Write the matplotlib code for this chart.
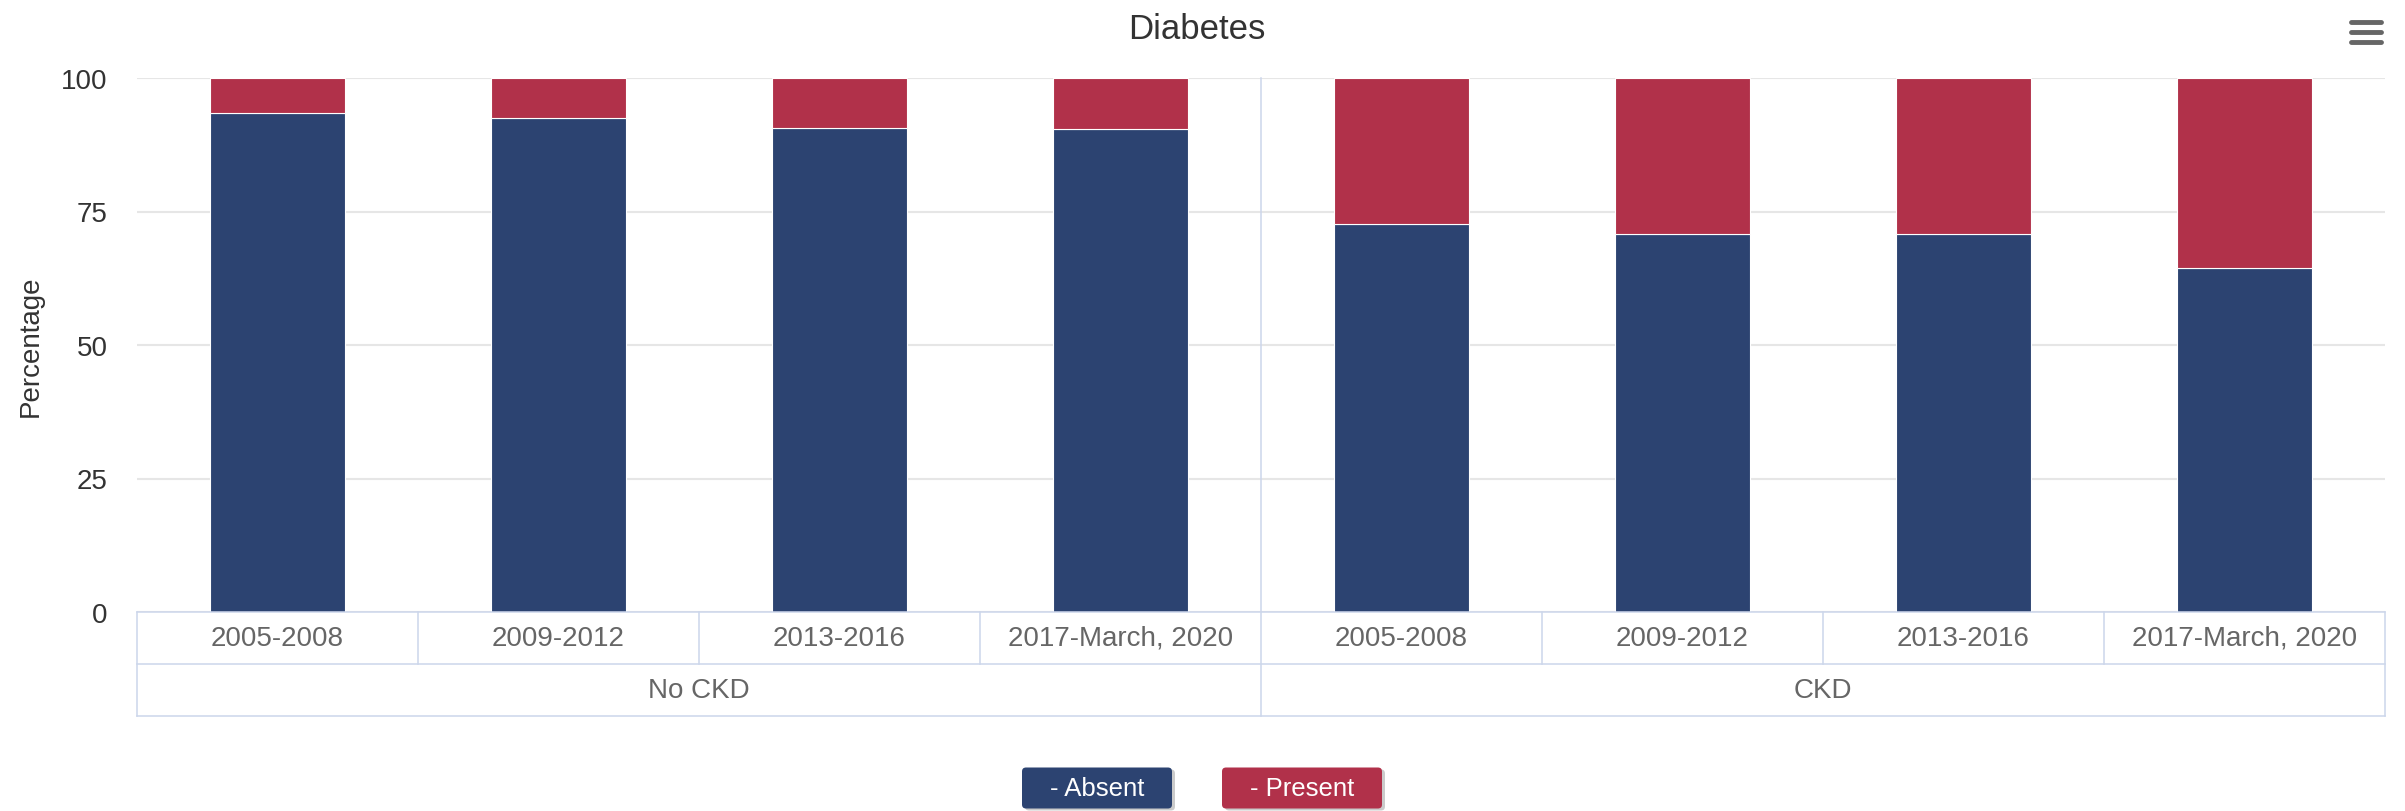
import matplotlib
matplotlib.use("Agg")
import matplotlib.pyplot as plt
import matplotlib.transforms as mtransforms
from matplotlib.patches import FancyBboxPatch
import numpy as np

plt.rcParams["font.family"] = ["Liberation Sans", "DejaVu Sans"]

# ── Data ──────────────────────────────────────────────────────────────────────
periods = ["2005-2008", "2009-2012", "2013-2016", "2017-March, 2020"]
groups  = ["No CKD", "CKD"]
series  = ["Absent", "Present"]
absent  = [93.4, 92.6, 90.7, 90.4, 72.6, 70.7, 70.7, 64.4]
present = [6.6, 7.4, 9.3, 9.6, 27.4, 29.3, 29.3, 35.6]

BLUE  = "#2c4371"
RED   = "#b1314a"
GRID  = "#e6e6e6"
LINE  = "#ccd6eb"

# ── Figure ────────────────────────────────────────────────────────────────────
fig = plt.figure(figsize=(24.05, 8.12), dpi=100)
ax = fig.add_axes([137 / 2405, 1 - 613 / 812, 2248 / 2405, 534 / 812])

labels = periods * len(groups)
x = np.arange(len(labels))
w = 0.477
ax.bar(x, absent, width=w, color=BLUE, edgecolor="white", linewidth=0.8, zorder=3)
ax.bar(x, present, width=w, bottom=absent, color=RED, edgecolor="white",
       linewidth=0.8, zorder=3)

ax.set_xlim(-0.5, len(labels) - 0.5)
ax.set_ylim(0, 100)
ax.set_yticks([0, 25, 50, 75, 100])
ax.yaxis.grid(True, color=GRID, linewidth=1.5, zorder=0)
ax.set_xticks([])
ax.tick_params(axis="y", length=0, pad=21, labelsize=20, labelcolor="#333333")
for s in ax.spines.values():
    s.set_visible(False)

ax.set_ylabel("Percentage", fontsize=20, color="#333333")
ax.yaxis.set_label_coords(-0.0414, 0.5)

ax.set_title("Diabetes", fontsize=25, color="#333333", pad=29, x=0.4715)

# ── Two-level category table under the plot ─────────────────────────────────
tr = mtransforms.blended_transform_factory(ax.transData, ax.transAxes)
r1, r2 = -52 / 534, -104 / 534
x0, x1 = -0.5, len(labels) - 0.5
kw = dict(color=LINE, linewidth=1.1, transform=tr, clip_on=False, zorder=4)
for yy in (0, r1, r2):
    ax.plot([x0, x1], [yy, yy], **kw)
ax.plot([x0, x0], [0, r2], **kw)
ax.plot([x1, x1], [0, r2], **kw)
n = len(periods)
for k in range(len(labels) - 1):
    if (k + 1) % n == 0:
        ax.plot([k + 0.5, k + 0.5], [1, r2], **kw)
    else:
        ax.plot([k + 0.5, k + 0.5], [0, r1], **kw)

for i, lab in enumerate(labels):
    ax.text(i, r1 / 2, lab, transform=tr, ha="center", va="center",
            fontsize=20, color="#666666")
for g, name in enumerate(groups):
    ax.text(g * n + (n - 1) / 2, (r1 + r2) / 2, name, transform=tr,
            ha="center", va="center", fontsize=20, color="#666666")

# ── Legend buttons ────────────────────────────────────────────────────────────
boxes = [(10.22, 1.50, BLUE), (12.22, 1.60, RED)]
for name, (bx, bw, col) in zip(series, boxes):
    by, bh = 0.025, 0.41
    shadow = FancyBboxPatch((bx + 0.03, by - 0.02), bw, bh,
                            boxstyle="round,pad=0,rounding_size=0.04",
                            transform=fig.dpi_scale_trans, facecolor="#999999",
                            edgecolor="none", alpha=0.5)
    box = FancyBboxPatch((bx, by), bw, bh,
                         boxstyle="round,pad=0,rounding_size=0.04",
                         transform=fig.dpi_scale_trans, facecolor=col,
                         edgecolor="none")
    fig.patches.extend([shadow, box])
    fig.text(bx + bw / 2, by + bh / 2, "- " + name, transform=fig.dpi_scale_trans,
             ha="center", va="center", fontsize=18.5, color="white")

# ── Menu icon (top right) ────────────────────────────────────────────────────
for yy in (23, 33, 43):
    fig.add_artist(plt.Line2D([2351 / 2405, 2381 / 2405], [1 - yy / 812] * 2,
                              color="#666666", linewidth=3.5,
                              solid_capstyle="round"))

fig.savefig("out.png", dpi=100)
